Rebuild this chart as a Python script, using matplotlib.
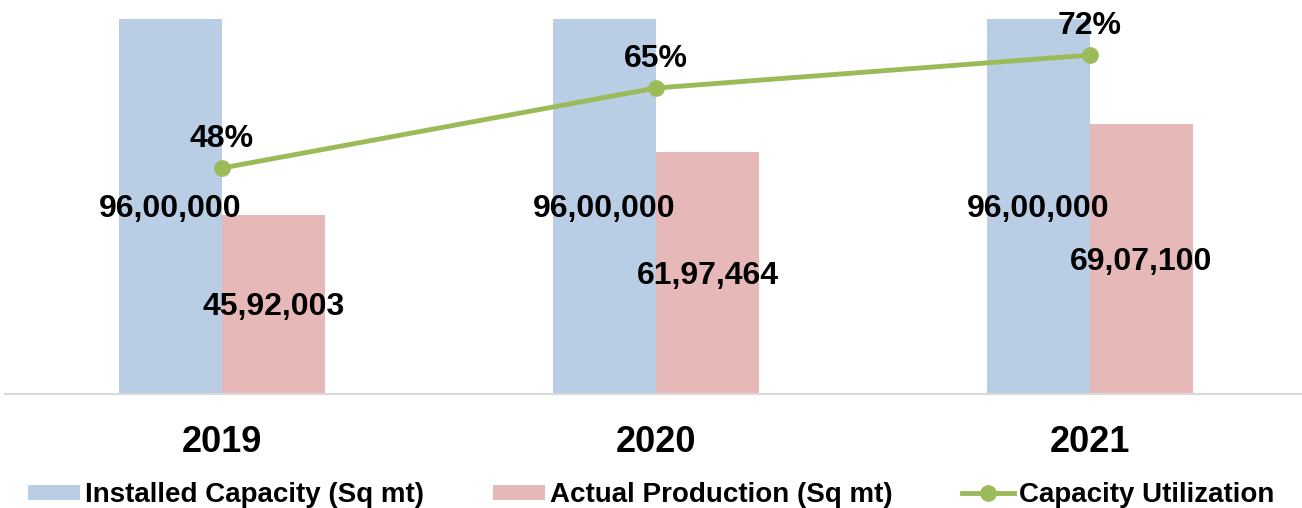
import numpy as np
import matplotlib.pyplot as plt

years = ['2019', '2020', '2021']
installed = [9600000, 9600000, 9600000]
actual = [4592003, 6197464, 6907100]
utilization = [48, 65, 72]

installed_labels = ['96,00,000', '96,00,000', '96,00,000']
actual_labels = ['45,92,003', '61,97,464', '69,07,100']
util_labels = ['48%', '65%', '72%']

plt.rcParams['font.family'] = ['Liberation Sans', 'DejaVu Sans']
plt.rcParams['font.weight'] = 'bold'

blue = '#B9CDE5'
pink = '#E6B9B8'
green = '#9BBB59'

fig = plt.figure(figsize=(13.02, 5.08), dpi=100)
ax = fig.add_axes([0.0038, 0.2244, 1.0, 0.7756])

x = np.arange(len(years))
w = 0.237
b1 = ax.bar(x - w / 2, installed, w, color=blue, label='Installed Capacity (Sq mt)')
b2 = ax.bar(x + w / 2, actual, w, color=pink, label='Actual Production (Sq mt)')

# value labels in the middle of each bar
for i in range(len(years)):
    ax.annotate(installed_labels[i], (x[i] - w / 2, installed[i] / 2), xytext=(0, -2),
                textcoords='offset points', ha='center', va='center',
                fontsize=23, fontweight='bold')
    ax.annotate(actual_labels[i], (x[i] + w / 2, actual[i] / 2), xytext=(0, -2),
                textcoords='offset points', ha='center', va='center',
                fontsize=23, fontweight='bold')

ax.set_xlim(-0.5, 2.5)
ax.set_ylim(0, 10.087e6)
ax.set_xticks(x)
ax.set_xticklabels(years, fontsize=26, fontweight='bold')
ax.tick_params(axis='x', length=0, pad=22)
ax.set_yticks([])
for s in ['top', 'right', 'left']:
    ax.spines[s].set_visible(False)
ax.spines['bottom'].set_color('#D9D9D9')
ax.spines['bottom'].set_linewidth(1.5)

ax2 = ax.twinx()
ln, = ax2.plot(x, utilization, color=green, lw=3.5, marker='o', markersize=11,
               label='Capacity Utilization')
for i in range(len(years)):
    ax2.annotate(util_labels[i], (x[i], utilization[i]), xytext=(0, 21),
                 textcoords='offset points', ha='center', va='center',
                 fontsize=23, fontweight='bold')
ax2.set_ylim(0, 83.7)
ax2.set_yticks([])
for s in ['top', 'right', 'left', 'bottom']:
    ax2.spines[s].set_visible(False)

fig.legend([b1, b2, ln], ['Installed Capacity (Sq mt)', 'Actual Production (Sq mt)', 'Capacity Utilization'],
           loc='center', bbox_to_anchor=(0.5, 0.025), ncol=3, frameon=False,
           prop={'size': 20, 'weight': 'bold'}, handlelength=1.87, handleheight=0.5,
           handletextpad=0.18, columnspacing=2.5)

fig.savefig('out.png', dpi=100)
